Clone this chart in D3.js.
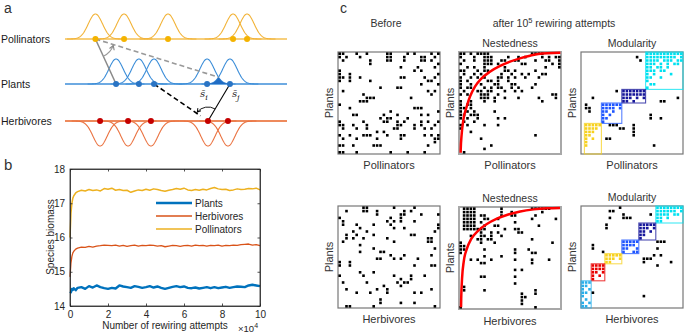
<!DOCTYPE html>
<html><head><meta charset="utf-8">
<script src="https://cdn.jsdelivr.net/npm/d3@7"></script>
<style>
body{margin:0;background:#fff;}
svg{font-family:"Liberation Sans",Arial,sans-serif;display:block;}
</style></head><body>
<svg id="fig" width="685" height="334"></svg>
<script>
// ---------------- DATA ----------------
// panel a: trait means (0-100 trait axis)
const guilds = ["Pollinators","Plants","Herbivores"];
const pollinatorTraits = [13.7, 26.6, 46.4, 75.7, 82.0];
const plantTraits      = [23.0, 33.3, 40.1, 64.0, 74.3];
const herbivoreTraits  = [15.8, 28.4, 38.7, 64.4, 73.4];
const nicheWidth = 3.2;

// panel b: biomass vs rewiring attempts (x 10^4)
const attempts = [0,0.05,0.1,0.15,0.2,0.3,0.4,0.6,0.8,1.0,1.2,1.4,1.6,1.8,2.0,2.2,2.4,2.6,2.8,3.0,3.2,3.4,3.6,3.8,4.0,4.2,4.4,4.6,4.8,5.0,5.2,5.4,5.6,5.8,6.0,6.2,6.4,6.6,6.8,7.0,7.2,7.4,7.6,7.8,8.0,8.2,8.4,8.6,8.8,9.0,9.2,9.4,9.6,9.8,10.0];
const plantsBiomass = [14.42,14.40,14.50,14.47,14.52,14.46,14.53,14.55,14.50,14.58,14.54,14.60,14.55,14.52,14.50,14.53,14.51,14.60,14.57,14.55,14.53,14.58,14.56,14.53,14.55,14.58,14.54,14.57,14.53,14.50,14.53,14.56,14.58,14.55,14.57,14.53,14.52,14.54,14.51,14.53,14.55,14.52,14.55,14.52,14.54,14.56,14.53,14.55,14.57,14.56,14.55,14.60,14.62,14.60,14.58];
const herbivoresBiomass = [14.85,15.25,15.45,15.55,15.60,15.66,15.69,15.72,15.71,15.74,15.72,15.75,15.76,15.78,15.77,15.76,15.78,15.75,15.77,15.74,15.76,15.78,15.75,15.77,15.76,15.78,15.77,15.75,15.76,15.73,15.75,15.77,15.76,15.74,15.76,15.77,15.75,15.78,15.76,15.77,15.75,15.77,15.76,15.78,15.75,15.77,15.76,15.78,15.77,15.79,15.80,15.81,15.78,15.79,15.76];
const pollinatorsBiomass = [16.00,16.70,17.00,17.15,17.22,17.30,17.34,17.38,17.36,17.40,17.37,17.39,17.36,17.43,17.41,17.44,17.38,17.40,17.37,17.38,17.32,17.36,17.39,17.37,17.41,17.38,17.42,17.40,17.37,17.35,17.38,17.40,17.43,17.41,17.44,17.39,17.37,17.40,17.38,17.41,17.39,17.43,17.46,17.42,17.40,17.41,17.37,17.39,17.42,17.40,17.41,17.43,17.42,17.44,17.39];
const seriesNames = ["Plants","Herbivores","Pollinators"];
const xTicks = [0,2,4,6,8,10];
const yTicks = [14,15,16,17,18];

// panel c: incidence matrices (rows = plants, cols = animals), 30 x 30
const polBefore = [
"11000 10010 00001 10000 10100 00101","10100 01000 00001 10001 00001 10010","01000 00001 00001 10001 00001 10100",
"00000 00001 00000 00000 00000 00001","00000 00000 00000 00010 00010 00010","10000 00000 00000 00000 00101 00000",
"10010 00000 00000 00000 00000 00001","11010 01000 00000 00011 00000 10010","10010 00001 00000 00000 00000 01100",
"00000 00000 00000 00000 00001 00001","00000 00000 00100 00110 00000 00000","01000 00000 00000 00000 00000 01010",
"00000 00100 00000 00000 00000 00100","00000 00011 10000 00000 01000 00000","00000 01110 00000 00000 00000 00000",
"10000 00000 00000 00000 00000 00000","00010 00000 00000 00000 00111 00000","00000 00000 00000 10000 00000 00001",
"00001 10000 00010 00100 00001 01000","00000 00000 00101 10000 10000 00000","10000 00100 00011 00101 00001 01001",
"11001 00010 00000 00110 00101 00010","01000 10010 00000 01100 00100 10100","00000 00000 01010 00000 00000 00000",
"10010 00111 00001 00011 00000 10101","01000 10000 01000 00010 00000 00011","00000 00000 00000 00000 00000 00010",
"11001 00000 11100 00000 00000 01000","00000 00000 00000 00000 00000 00000","11000 10000 00000 10000 10000 10000"];
const polNested = [
"11010 11110 00000 00000 01111 00000","10001 00111 00001 00101 00001 01011","01001 00111 00110 01100 00100 11001",
"10000 00111 01000 00011 00000 00101","00101 00100 00010 00000 00000 10001","11000 10110 00011 01000 00100 00000",
"01001 01000 00100 10010 10001 10000","10010 10100 01101 01001 00010 00000","10100 00011 01001 00000 00000 00000",
"10010 01000 11000 11000 00100 00000","10110 00101 01100 10100 01000 00000","01000 11011 00010 01010 00000 00000",
"10100 01110 01000 00000 00000 00110","00000 01110 10010 00100 00010 00010","10010 00100 10000 00000 00001 00000",
"10110 00000 00000 00000 00000 00000","11010 00000 00000 00000 00000 00000","10101 00000 10000 00000 00000 00000",
"11011 10000 00000 00000 00000 00000","10100 10000 01010 00000 00000 00000","01001 00000 00000 00000 00000 00000",
"10100 00100 01000 00000 00000 00000","10000 00000 00000 00000 00000 00000","00010 00000 00000 00000 00000 00000",
"00000 00000 00000 00000 00100 00000","00000 01000 00000 00000 00000 00000","00000 00000 00000 00000 00000 00000",
"00000 00001 00000 00000 00000 00000","00000 00100 00000 00000 00000 00000","01000 00000 00000 00000 00000 00000"];
const polModular = [
"00000 00000 00000 00001 11111 11111","00000 00000 00000 01001 11111 11101","00000 00000 00000 00101 11101 11011",
"00000 00000 00000 00001 11010 10110","00000 00000 00000 00001 10110 10000","00000 00000 00000 00001 11011 00000",
"00000 00000 00000 00001 01000 01000","00000 00000 00000 00001 10010 00000","00000 00000 00000 00001 00000 00000",
"00000 00000 00000 00000 11000 00000","00000 00000 00000 00001 00000 00000","00000 00000 10111 11110 00000 00000",
"00000 00000 00111 11110 00000 00000","00010 00000 00111 01010 00000 00010","00000 00000 00110 10000 00011 00000",
"01000 01111 11000 00000 00000 00000","01100 01111 01000 00000 00000 00000","00100 01101 00000 00000 00000 00000",
"00000 01010 00000 00000 10000 00000","00000 01100 00000 00000 10010 00000","00000 01000 00000 00000 00000 00000",
"01111 10011 10000 10000 00000 00000","01111 00000 01100 10000 00000 00000","01110 00000 00000 10000 00000 00000",
"01100 00000 00000 10000 00000 00000","01010 00110 00000 00000 00000 00000","01000 00000 00000 00000 00000 00000",
"01000 00000 00000 00000 01000 00000","00000 00000 00000 00000 00000 00000","00000 00000 00000 00000 00000 00000"];
const herbBefore = [
"00000 00110 00000 01000 00100 00000","00100 00110 01000 00001 01000 00000","00000 00000 01000 00011 00001 00001",
"10000 00000 00000 10010 00000 00000","01000 00000 00001 01010 00100 00000","01000 10000 10000 10000 00000 00001",
"00000 01000 00000 01001 00000 00001","00001 00010 00000 00000 00000 00010","00100 10000 10000 00000 01100 00000",
"00101 00100 00001 00000 00000 01100","01000 00000 00000 01000 00000 01100","00000 01000 00000 00000 00000 00000",
"00000 00000 10000 00000 00000 00010","00000 01000 00110 00000 00000 00000","00000 00000 00000 10001 00000 00100",
"00000 00000 01100 01010 00010 00000","10010 00000 00000 00000 00000 00000","10010 00000 00000 00000 00100 00110",
"00000 00000 00000 00000 00000 00000","00000 01000 10000 00000 00000 00000","10000 00100 00000 01000 01000 10000",
"00000 00000 00000 00010 01000 00000","01000 00010 00000 00101 10000 00000","00000 00000 00010 00010 00000 00000",
"00100 00000 01001 00000 00000 00100","00000 10001 00001 00000 00101 00000","00000 00000 00000 00000 00000 00000",
"00000 00000 00100 00000 00000 00000","00000 00000 00100 00010 00100 00000","00110 00000 10000 00000 00000 00010"];
const herbNested = [
"01111 00000 00100 00000 01111 11000","01111 00000 00100 10000 00001 00000","01111 01100 00100 11000 00100 00000",
"01111 00110 01000 00000 01000 00010","01111 01000 00000 01000 00000 00000","01111 00100 11000 00000 00010 00000",
"01111 11100 00010 01100 00000 00000","00000 01001 01000 00110 00000 00000","00010 01101 00100 00000 00000 00000",
"00000 11011 00000 00000 01000 00000","10000 01000 10000 00000 00000 00100","11000 00000 00000 00000 00000 00000",
"11000 00100 00000 01000 10000 00000","10000 00000 00000 01000 01100 00000","00000 00100 00100 00000 00000 00000",
"00010 10001 00000 01000 01000 01000","00000 01100 00000 00000 01000 00000","00000 00000 00000 00000 00000 00000",
"00000 00000 00000 01010 00000 00000","00000 00000 00000 00000 00000 00000","00000 01100 00000 01000 00000 00000",
"00000 00000 00000 00000 00000 00000","00000 00000 00000 01000 00000 00000","01000 00000 00000 00000 00000 00000",
"01000 00100 00000 00000 00100 00000","00000 00000 00000 00010 00100 00000","00000 00000 00000 00011 00000 00000",
"00000 00000 00000 00010 00000 00000","00000 00000 00000 00010 00000 00000","10000 00000 00000 00000 00100 00000"];
const herbModular = [
"00000 00000 01000 00000 00111 11111","00000 00011 00000 00000 00111 11101","00000 00000 00100 00000 10111 10110",
"00000 00010 00111 00000 00110 10000","00000 00000 00000 00000 00110 00000","00000 00100 00000 00111 11000 00000",
"00000 00100 00000 00111 01000 00000","00000 00000 00000 00110 10000 00000","00000 00000 00000 00110 00000 00000",
"00000 00000 00000 00100 00000 00000","00000 00000 00111 11000 00111 00000","00010 00000 00111 10000 00000 00000",
"00010 00000 00110 01000 00100 00000","00000 01000 00100 11000 00000 00000","00000 00111 11000 00000 01010 00000",
"00000 00111 01000 00011 10000 00000","00000 00110 00000 00010 00000 01000","00011 11000 00000 00000 00100 00000",
"00011 11000 00000 00000 00000 00000","00011 01000 00000 00000 00000 00000","00010 10000 00000 00000 00000 00000",
"00010 00000 00000 00000 00000 00000","11100 00000 00000 00000 00000 00000","11000 00000 00000 00000 00000 00000",
"10100 00000 00000 00000 00000 00000","11010 00000 00000 00000 00000 00000","10000 00000 00000 00010 00000 00000",
"01000 00000 00000 00000 00000 00000","10100 00000 00000 00000 00000 00000","11000 00000 00000 00000 00000 00000"];
// modules: [rowStart,rowEnd,colStart,colEnd,color]
const polModules = [[0,10,19,29,"#00E1F0"],[11,14,12,18,"#16169A"],[15,20,6,11,"#1F55FF"],[21,29,1,5,"#F7D11E"]];
const herbModules = [[0,4,22,29,"#00E1F0"],[5,9,17,21,"#16169A"],[10,13,12,16,"#1F55FF"],[14,16,7,11,"#F7D11E"],[17,21,3,6,"#E80000"],[22,29,0,2,"#2AAEEA"]];
// nestedness isoclines in (col,row) units
const polCurve = [[0.5,29.6],[0.5,28.8],[0.8,24],[1.26,20.1],[2.25,16.1],[3.24,13.1],[4.7,10.2],[6.66,7.74],[9.1,5.8],[12.1,4.1],[15,2.85],[17.9,1.86],[20.9,1.08],[23.3,0.6],[29.8,0.25]];
const herbCurve = [[0.6,29.5],[0.65,27],[0.9,21],[1.4,16],[2.3,12.3],[3.6,9.4],[5.6,7],[8.2,5],[11,3.5],[14.5,2.2],[18,1.3],[22,0.7],[26,0.4],[29.7,0.3]];

// ---------------- DRAW ----------------
const svg = d3.select("#fig");
const txt = "#262626";

// ===== panel a =====
const gA = svg.append("g");
gA.append("text").attr("x",4).attr("y",13).attr("font-size",14).attr("fill","#333").text("a");
const tx = d3.scaleLinear().domain([0,100]).range([65,287]);
const amp = 25;
const guildCfg = [
  {name:"Pollinators", traits:pollinatorTraits, y:39, dir:-1, curve:"#F2B338", base:"#F7CF7C", dot:"#F4B300"},
  {name:"Plants", traits:plantTraits, y:84, dir:-1, curve:"#3B8DD8", base:"#6EAAE2", dot:"#2A74C4"},
  {name:"Herbivores", traits:herbivoreTraits, y:121, dir:1, curve:"#EA7240", base:"#EE8A5C", dot:"#C40000"}
];
const gauss = (t,m)=>Math.exp(-0.5*((t-m)/nicheWidth)**2);
guildCfg.forEach(g=>{
  gA.append("text").attr("x",1).attr("y",g.y).attr("dy","0.35em").attr("font-size",10.5).attr("fill","#1a1a1a").text(g.name);
  gA.append("line").attr("x1",tx(0)).attr("x2",tx(100)).attr("y1",g.y).attr("y2",g.y)
    .attr("stroke",g.base).attr("stroke-width",2);
  g.traits.forEach(m=>{
    const pts = d3.range(m-4*nicheWidth, m+4*nicheWidth+0.01, 0.2).map(t=>[tx(t), g.y + g.dir*amp*gauss(t,m)]);
    gA.append("path").attr("d",d3.line()(pts)).attr("fill","none").attr("stroke",g.curve).attr("stroke-width",1.1);
  });
});
// overlap of the two plant niches (i, j)
const pi = plantTraits[3], pj = plantTraits[4];
const ov = d3.range(pi, pj+0.01, 0.1).map(t=>[tx(t), 84 - amp*Math.min(gauss(t,pi),gauss(t,pj))]);
gA.append("path").attr("d",d3.area().x(d=>d[0]).y0(84).y1(d=>d[1])(ov)).attr("fill","#1F6CC4");
const cross = (pi+pj)/2, crossY = 84 - amp*gauss(cross,pi);

// markers
const defs = svg.append("defs");
[["arrGray","#888"],["arrBlack","#000"]].forEach(([id,c])=>{
  defs.append("marker").attr("id",id).attr("viewBox","0 0 8 8").attr("refX",6).attr("refY",4)
    .attr("markerWidth",6).attr("markerHeight",6).attr("orient","auto")
    .append("path").attr("d","M1,1 L6,4 L1,7").attr("fill","none").attr("stroke",c).attr("stroke-width",1.4);
});
function arc(cx,cy,r,a0,a1){
  const p0=[cx+r*Math.cos(a0),cy+r*Math.sin(a0)], p1=[cx+r*Math.cos(a1),cy+r*Math.sin(a1)];
  return `M${p0[0]},${p0[1]} A${r},${r} 0 0 ${a1>a0?1:0} ${p1[0]},${p1[1]}`;
}
// pollinator links
const P0=[tx(pollinatorTraits[0]),39], L0=[tx(plantTraits[0]),84];
gA.append("line").attr("x1",P0[0]).attr("y1",P0[1]).attr("x2",L0[0]).attr("y2",L0[1]).attr("stroke","#8a8a8a").attr("stroke-width",1.5);
gA.append("line").attr("x1",P0[0]).attr("y1",P0[1]).attr("x2",tx(cross)).attr("y2",crossY)
  .attr("stroke","#999").attr("stroke-width",1.6).attr("stroke-dasharray","5,3");
const aS = Math.atan2(L0[1]-P0[1],L0[0]-P0[0]), aD = Math.atan2(crossY-P0[1],tx(cross)-P0[0]);
gA.append("path").attr("d",arc(P0[0],P0[1],19,aS,aD+0.05)).attr("fill","none").attr("stroke","#999").attr("stroke-width",1.1).attr("marker-end","url(#arrGray)");
// herbivore links
const H3=[tx(herbivoreTraits[3]),121], Lj=[tx(plantTraits[4]),84], L2=[tx(plantTraits[2]),84];
gA.append("line").attr("x1",Lj[0]).attr("y1",Lj[1]).attr("x2",H3[0]).attr("y2",H3[1]).attr("stroke","#000").attr("stroke-width",1.1);
const dEnd=[L2[0]+(H3[0]-L2[0])*0.86, L2[1]+(H3[1]-L2[1])*0.86];
gA.append("line").attr("x1",L2[0]).attr("y1",L2[1]).attr("x2",dEnd[0]).attr("y2",dEnd[1])
  .attr("stroke","#000").attr("stroke-width",1.6).attr("stroke-dasharray","5,3");
const bS = Math.atan2(Lj[1]-H3[1],Lj[0]-H3[0]), bD = Math.atan2(L2[1]-H3[1],L2[0]-H3[0]);
gA.append("path").attr("d",arc(H3[0],H3[1],14,bS,bD+0.1)).attr("fill","none").attr("stroke","#000").attr("stroke-width",0.9).attr("marker-end","url(#arrBlack)");
// dots
guildCfg.forEach(g=>{
  gA.selectAll(null).data(g.traits).enter().append("circle").attr("cx",d=>tx(d)).attr("cy",g.y).attr("r",3).attr("fill",g.dot);
});
// trait labels
[[plantTraits[3],"i",-7],[plantTraits[4],"j",2]].forEach(([t,s,off])=>{
  const tt = gA.append("text").attr("x",tx(t)+off).attr("y",97).attr("font-family","DejaVu Serif, serif").attr("font-style","italic").attr("font-size",10).attr("fill","#222");
  tt.append("tspan").text("s\u0304");
  tt.append("tspan").attr("dy",2.5).attr("font-size",8).text(s);
});

// ===== panel b =====
const gB = svg.append("g");
gB.append("text").attr("x",4).attr("y",170).attr("font-size",15).attr("fill","#333").text("b");
const bx = d3.scaleLinear().domain([0,10]).range([70,260]);
const by = d3.scaleLinear().domain([14,18]).range([306,169]);
const series = [
  {name:"Plants", vals:plantsBiomass, color:"#0072BD", w:2.4},
  {name:"Herbivores", vals:herbivoresBiomass, color:"#D95319", w:1.3},
  {name:"Pollinators", vals:pollinatorsBiomass, color:"#EDB120", w:1.5}
];
series.forEach(s=>{
  gB.append("path").datum(s.vals).attr("fill","none").attr("stroke",s.color).attr("stroke-width",s.w)
    .attr("stroke-linejoin","round")
    .attr("d",d3.line().x((d,i)=>bx(attempts[i])).y(d=>by(d)));
});
gB.append("rect").attr("x",70).attr("y",169).attr("width",190).attr("height",137).attr("fill","none").attr("stroke",txt).attr("stroke-width",0.8);
const fmt = d3.format("d");
gB.append("g").attr("transform","translate(0,306)").call(d3.axisBottom(bx).tickValues(xTicks).tickFormat(fmt).tickSizeInner(-2.5).tickSizeOuter(0).tickPadding(5));
gB.append("g").attr("transform","translate(70,0)").call(d3.axisLeft(by).tickValues(yTicks).tickFormat(fmt).tickSizeInner(-2.5).tickSizeOuter(0).tickPadding(5));
gB.append("g").attr("transform","translate(0,169)").call(d3.axisTop(bx).tickValues(xTicks).tickSizeInner(-2.5).tickSizeOuter(0).tickFormat(""));
gB.append("g").attr("transform","translate(260,0)").call(d3.axisRight(by).tickValues(yTicks).tickSizeInner(-2.5).tickSizeOuter(0).tickFormat(""));
gB.selectAll(".domain").attr("stroke",txt).attr("stroke-width",0.8);
gB.selectAll(".tick line").attr("stroke",txt).attr("stroke-width",0.8);
gB.selectAll(".tick text").attr("fill",txt).attr("font-size",10).attr("font-family","Liberation Sans, Arial, sans-serif");
gB.append("text").attr("x",165).attr("y",329).attr("text-anchor","middle").attr("font-size",10).attr("fill",txt).text("Number of rewiring attempts");
const xm = gB.append("text").attr("x",238).attr("y",332).attr("font-size",9.5).attr("fill",txt);
xm.append("tspan").text("\u00d710");
xm.append("tspan").attr("dy",-4).attr("font-size",7).text("4");
gB.append("text").attr("transform","translate(54,237) rotate(-90)").attr("text-anchor","middle").attr("font-size",10).attr("fill",txt).text("Species biomass");
series.forEach((s,i)=>{
  const y = 203 + i*13;
  gB.append("line").attr("x1",156).attr("x2",192).attr("y1",y).attr("y2",y).attr("stroke",s.color).attr("stroke-width",s.w+0.2);
  gB.append("text").attr("x",195).attr("y",y).attr("dy","0.35em").attr("font-size",10).attr("fill",txt).text(s.name);
});

// ===== panel c =====
const gC = svg.append("g");
const lab = "#333";
gC.append("text").attr("x",340).attr("y",13).attr("font-size",14).attr("fill","#333").text("c");
gC.append("text").attr("x",386).attr("y",27).attr("text-anchor","middle").attr("font-size",10.5).attr("fill",lab).text("Before");
const aft = gC.append("text").attr("x",554).attr("y",27).attr("text-anchor","middle").attr("font-size",10.5).attr("fill",lab);
aft.append("tspan").text("after 10");
aft.append("tspan").attr("dy",-4).attr("font-size",7.5).text("5");
aft.append("tspan").attr("dy",4).text(" rewiring attempts");

const N = 30, S = 102;
function parse(rows){ return rows.map(r=>r.replace(/ /g,"").padEnd(N,"0").slice(0,N)); }
function drawMatrix(rows, x0, y0, opts){
  const g = gC.append("g");
  const cx = d3.scaleBand().domain(d3.range(N)).range([x0,x0+S]);
  const ry = d3.scaleBand().domain(d3.range(N)).range([y0,y0+S]);
  const cells = [];
  parse(rows).forEach((r,i)=>{ for(let j=0;j<N;j++) if(r[j]==="1") cells.push([i,j]); });
  const modOf = (i,j)=> (opts.modules||[]).find(m=>i>=m[0]&&i<=m[1]&&j>=m[2]&&j<=m[3]);
  g.append("rect").attr("x",x0).attr("y",y0).attr("width",S).attr("height",S).attr("fill","#fff")
    .attr("stroke",opts.border).attr("stroke-width",opts.bw);
  (opts.modules||[]).forEach(m=>{
    g.append("rect").attr("x",cx(m[2])).attr("y",ry(m[0])).attr("width",cx(m[3])+cx.bandwidth()-cx(m[2]))
      .attr("height",ry(m[1])+ry.bandwidth()-ry(m[0])).attr("fill","none").attr("stroke",m[4]).attr("stroke-width",1.1).attr("stroke-opacity",0.75);
  });
  const ds = 2.6;
  g.selectAll(null).data(cells).enter().append("rect")
    .attr("x",d=>cx(d[1])+(cx.bandwidth()-ds)/2).attr("y",d=>ry(d[0])+(ry.bandwidth()-ds)/2)
    .attr("width",ds).attr("height",ds).attr("fill",d=>{const m=modOf(d[0],d[1]); return m?m[4]:"#000";});
  if(opts.curve){
    const u = d3.scaleLinear().domain([0,N]).range([x0,x0+S]);
    const v = d3.scaleLinear().domain([0,N]).range([y0,y0+S]);
    g.append("path").attr("d",d3.line().x(d=>u(d[0])).y(d=>v(d[1])).curve(d3.curveMonotoneX)(opts.curve))
      .attr("fill","none").attr("stroke","#F00").attr("stroke-width",2.5);
  }
  if(opts.title) g.append("text").attr("x",x0+S/2).attr("y",y0-5).attr("text-anchor","middle").attr("font-size",10.5).attr("fill",lab).text(opts.title);
  g.append("text").attr("x",x0+S/2).attr("y",opts.xly).attr("text-anchor","middle").attr("font-size",11).attr("fill",lab).text(opts.xl);
  g.append("text").attr("transform",`translate(${x0-5},${y0+S/2}) rotate(-90)`).attr("text-anchor","middle").attr("font-size",11).attr("fill",lab).text("Plants");
}
const cols = [338,459,581];
drawMatrix(polBefore, cols[0], 52, {border:"#777",bw:1.2,xl:"Pollinators",xly:169});
drawMatrix(polNested, cols[1], 52, {border:"#a8a8a8",bw:2,xl:"Pollinators",xly:169,title:"Nestedness",curve:polCurve});
drawMatrix(polModular, cols[2], 52, {border:"#777",bw:1.2,xl:"Pollinators",xly:169,title:"Modularity",modules:polModules});
drawMatrix(herbBefore, cols[0], 206, {border:"#777",bw:1.2,xl:"Herbivores",xly:323});
drawMatrix(herbNested, cols[1], 207, {border:"#a8a8a8",bw:2,xl:"Herbivores",xly:325,title:"Nestedness",curve:herbCurve});
drawMatrix(herbModular, cols[2], 206, {border:"#777",bw:1.2,xl:"Herbivores",xly:323,title:"Modularity",modules:herbModules});
</script>
</body></html>
